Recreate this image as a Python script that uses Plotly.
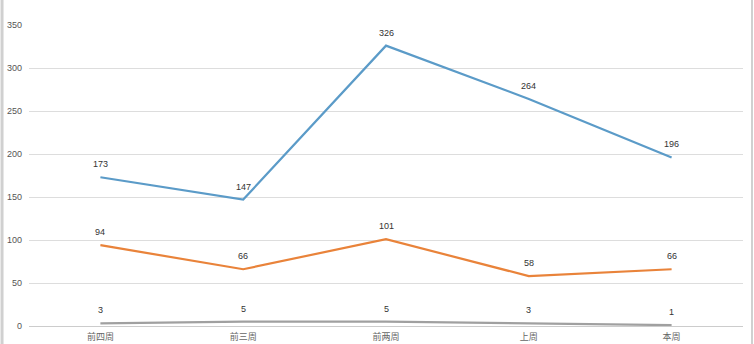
import plotly.graph_objects as go

categories = ["前四周", "前三周", "前两周", "上周", "本周"]
series_a = [173, 147, 326, 264, 196]
series_b = [94, 66, 101, 58, 66]
series_c = [3, 5, 5, 3, 1]
colors = ["#5b9bc8", "#e9833a", "#a0a0a0"]

fig = go.Figure()
annotations = []
for vals, col in zip([series_a, series_b, series_c], colors):
    fig.add_trace(go.Scatter(
        x=categories, y=vals, mode="lines",
        line=dict(color=col, width=2.2),
        cliponaxis=False, showlegend=False, hoverinfo="skip"))
    for c, v in zip(categories, vals):
        annotations.append(dict(x=c, y=v, text=str(v), showarrow=False,
                                yshift=13,
                                font=dict(size=9, color="#333333", family="Liberation Sans, Arial")))

fig.update_layout(
    width=754, height=344,
    margin=dict(l=28.5, r=10.5, t=25, b=18),
    paper_bgcolor="white", plot_bgcolor="white",
    annotations=annotations,
    xaxis=dict(type="category", showgrid=False, zeroline=False, showline=False,
               tickfont=dict(size=9, color="#666666", family="Noto Sans CJK SC"),
               ticks="", range=[-0.5, 4.5], fixedrange=True, automargin=False,
               ticklabelstandoff=4),
    yaxis=dict(range=[0, 350], dtick=50, gridcolor="#dddddd", gridwidth=1,
               zeroline=True, zerolinecolor="#cccccc", zerolinewidth=1,
               tickfont=dict(size=9, color="#555555", family="Liberation Sans, Arial"),
               ticks="", ticklabelstandoff=6, showline=False, automargin=False),
    shapes=[
        dict(type="line", xref="paper", yref="paper", x0=-27/715, x1=-27/715,
             y0=-18/301, y1=1+25/301, line=dict(color="#d0d0d0", width=3)),
        dict(type="line", xref="paper", yref="paper", x0=1+9/715, x1=1+9/715,
             y0=-18/301, y1=1+25/301, line=dict(color="#d0d0d0", width=2)),
    ],
)
fig.write_html("out.html")
